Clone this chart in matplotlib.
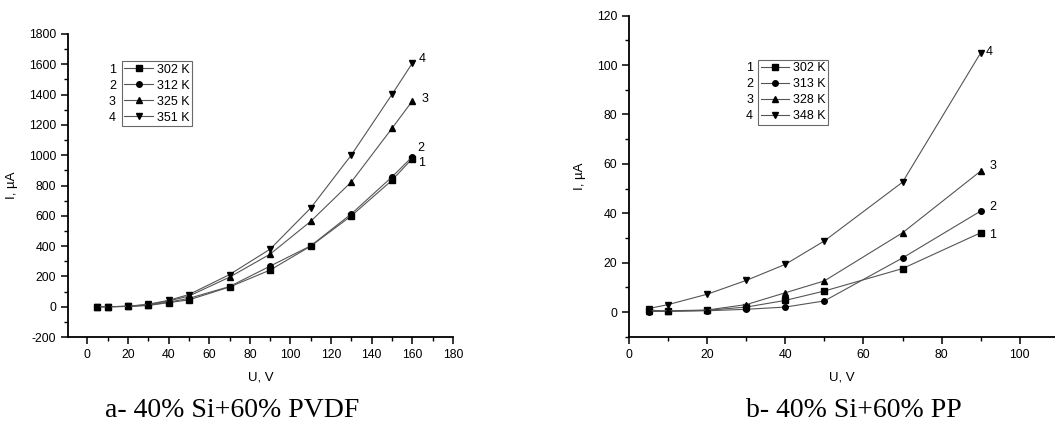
"""
I-V curves of Si/polymer composites at several temperatures
"""
import matplotlib
matplotlib.use('Agg')
import matplotlib.pyplot as plt
from matplotlib.ticker import MultipleLocator

plt.rcParams['font.family'] = ['Liberation Sans', 'DejaVu Sans']
plt.rcParams['font.size'] = 8
plt.rcParams['axes.unicode_minus'] = False

# a) 40% Si + 60% PVDF
u_pvdf = [5, 10, 20, 30, 40, 50, 70, 90, 110, 130, 150, 160]
i_pvdf_302 = [0, 0, 2, 8, 27, 45, 130, 242, 400, 600, 835, 978]
i_pvdf_312 = [0, 0, 2, 10, 30, 55, 133, 268, 402, 613, 857, 990]
i_pvdf_325 = [0, 0, 2, 14, 38, 70, 195, 347, 564, 824, 1178, 1358]
i_pvdf_351 = [0, 0, 3, 16, 42, 80, 212, 380, 652, 1002, 1402, 1608]
temps_pvdf = ['302 K', '312 K', '325 K', '351 K']

# b) 40% Si + 60% PP
u_pp = [5, 10, 20, 30, 40, 50, 70, 90]
i_pp_302 = [0.8, 0.3, 0.7, 2.0, 4.7, 8.5, 17.6, 32.1]
i_pp_313 = [0.2, 0.3, 0.5, 1.1, 2.0, 4.5, 21.9, 40.9]
i_pp_328 = [0.5, 0.5, 0.8, 3.0, 7.8, 12.6, 32.1, 57.1]
i_pp_348 = [1.4, 3.0, 7.2, 12.8, 19.3, 28.8, 52.6, 105.0]
temps_pp = ['302 K', '313 K', '328 K', '348 K']

markers = ['s', 'o', '^', 'v']
line_col = '#555555'


def style_axes(ax):
    for side in ['top', 'right']:
        ax.spines[side].set_visible(False)
    for side in ['left', 'bottom']:
        ax.spines[side].set_linewidth(1.3)
    ax.tick_params(which='major', direction='out', length=5, width=1.1, labelsize=8.8)
    ax.tick_params(which='minor', direction='out', length=3, width=1.0)
    ax.set_xlabel('U, V', fontsize=9.5, labelpad=8)
    ax.set_ylabel('I, µA', fontsize=9.5, labelpad=8)


def draw_series(ax, u, curves, temps, label_offsets, legend_box, num_dx):
    for k, (vals, t, m) in enumerate(zip(curves, temps, markers)):
        ax.plot(u, vals, color=line_col, lw=0.8, marker=m, ms=4,
                mfc='black', mec='black', label=t)
        ax.annotate(str(k + 1), (u[-1], vals[-1]), textcoords='offset pixels',
                    xytext=label_offsets[k], fontsize=9, va='center', ha='left')
    leg = ax.legend(loc='upper left', bbox_to_anchor=legend_box, fontsize=9,
                    frameon=True, fancybox=False, edgecolor='#444444',
                    handlelength=2.3, handletextpad=0.3, borderpad=0.2,
                    labelspacing=0.32, borderaxespad=0)
    leg.get_frame().set_linewidth(0.8)
    # curve numbers to the left of the legend rows
    fig.canvas.draw()
    inv = ax.transAxes.inverted()
    bb = leg.get_window_extent()
    for k, txt in enumerate(leg.get_texts()):
        tb = txt.get_window_extent()
        yc = (tb.y0 + tb.y1) / 2
        x_ax, y_ax = inv.transform((bb.x0 - num_dx, yc))
        ax.text(x_ax, y_ax, str(k + 1), transform=ax.transAxes,
                ha='right', va='center', fontsize=9)


fig = plt.figure(figsize=(10.55, 4.28), dpi=100)

ax1 = fig.add_axes([68 / 1055, 1 - 337 / 428, 385 / 1055, 303 / 428])
style_axes(ax1)
ax1.set_xlim(-9.5, 180)
ax1.set_ylim(-200, 1800)
ax1.xaxis.set_major_locator(MultipleLocator(20))
ax1.xaxis.set_minor_locator(MultipleLocator(10))
ax1.yaxis.set_major_locator(MultipleLocator(200))
ax1.yaxis.set_minor_locator(MultipleLocator(100))
draw_series(ax1, u_pvdf, [i_pvdf_302, i_pvdf_312, i_pvdf_325, i_pvdf_351],
            temps_pvdf, [(6, -4), (5, 9), (9, 2), (6, 4)],
            (0.14, 0.91), 6)

ax2 = fig.add_axes([629 / 1055, 1 - 336.7 / 428, 426 / 1055, 321 / 428])
style_axes(ax2)
ax2.set_xlim(0, 109)
ax2.set_ylim(-10, 120)
ax2.xaxis.set_major_locator(MultipleLocator(20))
ax2.xaxis.set_minor_locator(MultipleLocator(10))
ax2.yaxis.set_major_locator(MultipleLocator(20))
ax2.yaxis.set_minor_locator(MultipleLocator(10))
draw_series(ax2, u_pp, [i_pp_302, i_pp_313, i_pp_328, i_pp_348],
            temps_pp, [(8, -2), (9, 4), (9, 5), (5, 1)],
            (0.303, 0.862), 5)

fig.text(232 / 1055, 1 - 417 / 428, 'a- 40% Si+60% PVDF', ha='center', va='baseline',
         fontsize=20, family='Liberation Serif')
fig.text(854 / 1055, 1 - 417 / 428, 'b- 40% Si+60% PP', ha='center', va='baseline',
         fontsize=20, family='Liberation Serif')

fig.savefig('out.png', dpi=100)
plt.close(fig)
